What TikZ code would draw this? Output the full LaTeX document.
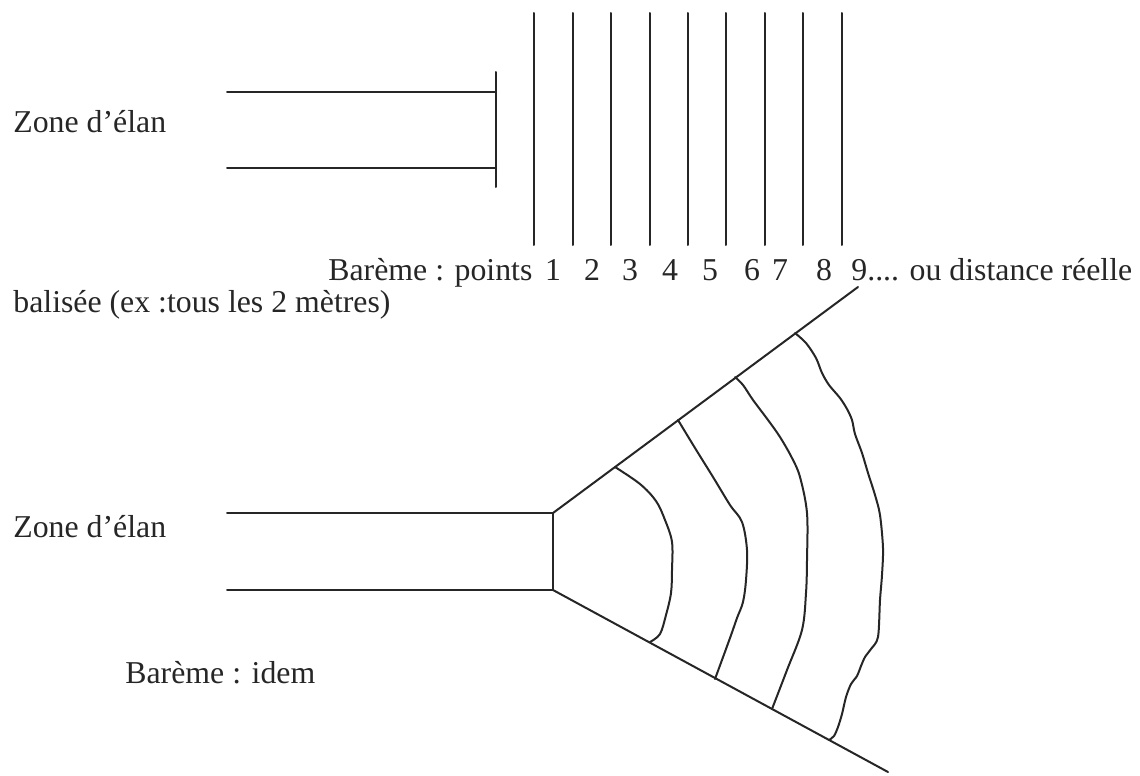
\documentclass[tikz,border=0pt]{standalone}
\usepackage{fontspec}
\setmainfont{Liberation Serif}
\begin{document}
\begin{tikzpicture}[x=0.5pt,y=-0.5pt,
  ln/.style={line width=1pt, draw=black!85, line cap=round, line join=round},
  lbl/.style={inner sep=0pt, anchor=base west, font=\fontsize{15.9}{19}\selectfont, text=black!85}]
\useasboundingbox (0,0) rectangle (1140,776);

% ---------- top diagram ----------
\node[lbl] (zone1) at (13,132) {Zone d’élan};
\coordinate (a1) at (227,92);
\coordinate (a2) at (496,92);
\coordinate (b1) at (227,168);
\coordinate (b2) at (496,168);
\coordinate (bt) at (496,72);
\coordinate (bb) at (496,187);
\draw[ln] (a1) -- (a2);
\draw[ln] (b1) -- (b2);
\draw[ln] (bt) -- (bb);

\foreach \i/\x in {1/534,2/573,3/611,4/650,5/688,6/726,7/765,8/803,9/842}{
  \coordinate (v\i t) at (\x,13);
  \coordinate (v\i b) at (\x,245);
  \draw[ln] (v\i t) -- (v\i b);
}

\node[lbl] (bareme1) at (328,280) {Barème : points};
\foreach \i/\x in {1/553,2/592,3/630,4/670,5/710,6/752,7/780,8/824}{
  \node[lbl, anchor=base] (d\i) at (\x,280) {\i};
}
\node[lbl] (d9) at (851,280) {9.... ou distance réelle};
\node[lbl] (balise) at (13,312) {balisée (ex :tous les 2 mètres)};

% ---------- bottom diagram ----------
\node[lbl] (zone2) at (13,537) {Zone d’élan};
\node[lbl] (bareme2) at (125,683) {Barème : idem};

\coordinate (c1) at (227,513);
\coordinate (c2) at (553,513);
\coordinate (e1) at (227,590);
\coordinate (e2) at (553,590);
\coordinate (up) at (858,287);
\coordinate (lo) at (888,772);
\draw[ln] (c1) -- (c2) -- (e2) -- (e1);
\draw[ln] (c2) -- (up);
\draw[ln] (e2) -- (lo);

% arcs
\draw[ln] plot[smooth, tension=0.55] coordinates {
  (615,467) (640,484) (656,501) (665,520) (672,542) (672,570) (671,593) (666,615) (660,634) (650,642)};
\draw[ln] plot[smooth, tension=0.55] coordinates {
  (678,420) (695,448) (713,477) (730,505) (742,522) (747,550) (746,580) (743,602) (737,618) (730,638) (715,679)};
\draw[ln] plot[smooth, tension=0.55] coordinates {
  (735,377) (743,385) (753,400) (768,420) (780,437) (792,458) (800,477) (807,513) (807,560) (806,593) (802,630) (787,670) (772,709)};
\draw[ln] plot[smooth, tension=0.5] coordinates {
  (795,333) (806,343) (816,358) (822,373) (829,385) (840,398) (847,409) (852,420) (855,434)
  (862,453) (868,473) (875,495) (880,515) (883,548) (882,575) (880,600) (878,637)
  (871,649) (865,657) (861,666) (857,676) (851,684) (846,697) (842,714) (838,727) (834,736) (829,740)};
\end{tikzpicture}
\end{document}
